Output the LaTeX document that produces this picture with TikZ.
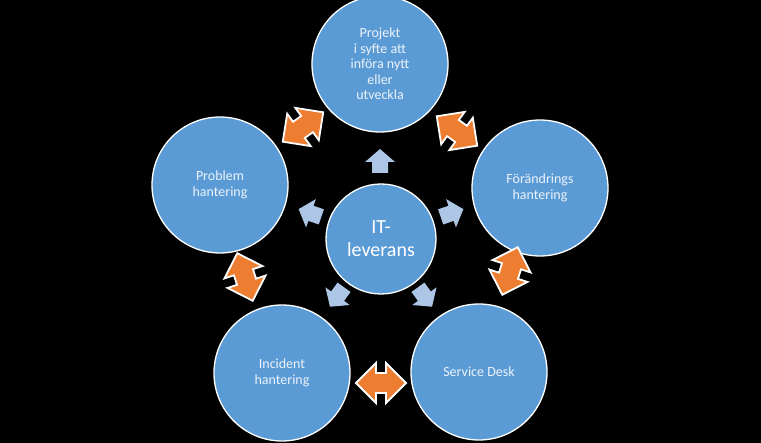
\documentclass[tikz,border=0pt]{standalone}
\usepackage{fontspec}
\setmainfont{Carlito}
\definecolor{circblue}{RGB}{91,155,213}
\definecolor{arrorange}{RGB}{237,125,49}
\definecolor{paleblue}{RGB}{174,198,230}
\definecolor{txtlight}{RGB}{236,242,250}
\tikzset{
  outer/.style={circle, fill=circblue, draw=white, line width=1.3pt, minimum size=136pt, inner sep=0pt, align=center, text=txtlight, font=\fontsize{14}{15.5}\selectfont},
  inner/.style={circle, fill=circblue, draw=white, line width=1.3pt, minimum size=110pt, inner sep=0pt, align=center, text=white, font=\fontsize{20}{23}\selectfont},
  dblarrow/.pic={\draw[fill=arrorange, draw=white, line width=1.8pt, line join=miter]
     (-25,0) -- (-5,20) -- (-5,10) -- (5,10) -- (5,20) -- (25,0) -- (5,-20) -- (5,-10) -- (-5,-10) -- (-5,-20) -- cycle;},
  palearrow/.pic={\fill[paleblue]
     (12,0) -- (-1,15) -- (-1,8) -- (-12,8) -- (-12,-8) -- (-1,-8) -- (-1,-15) -- cycle;}
}
\begin{document}
\begin{tikzpicture}[x=1pt,y=-1pt]
\fill[black] (0,0) rectangle (761,443);
\useasboundingbox (0,0) rectangle (761,443);
% circles
\node[inner] (c) at (381,239) {IT-\\leverans};
\node[outer] (top) at (380,64) {Projekt\\i syfte att\\införa nytt\\eller\\utveckla};
\node[outer] (right) at (540,188) {Förändrings\\hantering};
\node[outer] (br) at (479,372) {Service Desk};
\node[outer] (bl) at (282,373) {Incident\\hantering};
\node[outer] (left) at (220,185) {Problem\\hantering};
% pale arrows from centre
\pic[rotate=90] at (380,161) {palearrow};
\pic[rotate=19] at (452,213) {palearrow};
\pic[rotate=161] at (310,213) {palearrow};
\pic[rotate=-126] at (337,297) {palearrow};
\pic[rotate=-54] at (425,297) {palearrow};
% orange double arrows
\pic[rotate=36] at (303,127) {dblarrow};
\pic[rotate=-36] at (457,131) {dblarrow};
\pic[rotate=72] at (510,271) {dblarrow};
\pic[rotate=0] at (381,383) {dblarrow};
\pic[rotate=108] at (245,277) {dblarrow};
\end{tikzpicture}
\end{document}
